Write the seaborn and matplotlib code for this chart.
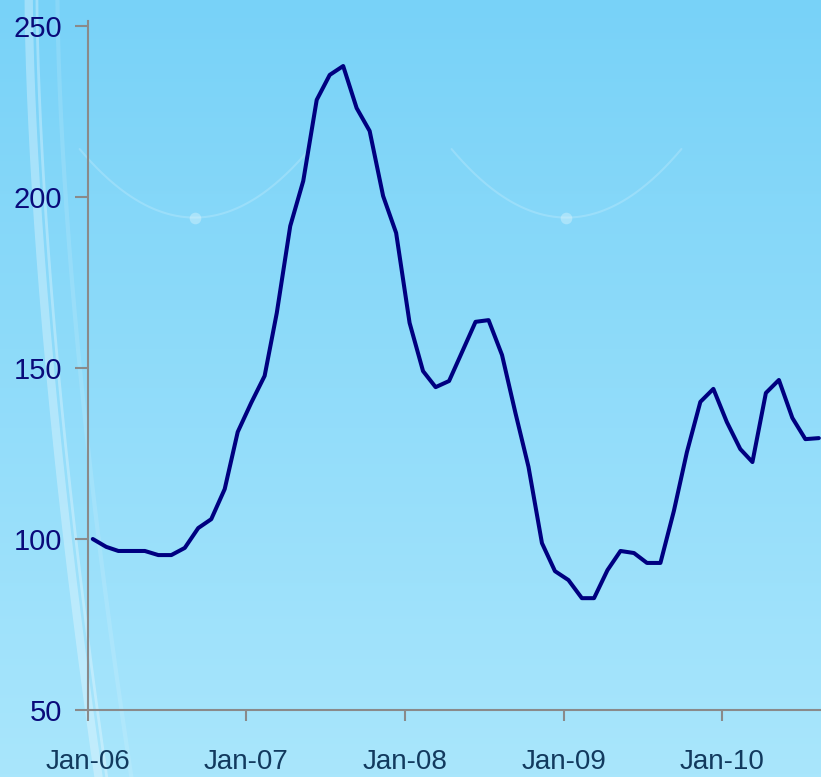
import numpy as np
import pandas as pd
import seaborn as sns
import matplotlib.pyplot as plt
import matplotlib.dates as mdates

# monthly index values, Jan-06 .. Aug-10
start_month = "2006-01-01"
index_values = [
    100.0, 97.7, 96.5, 96.5, 96.5, 95.3, 95.3, 97.4, 103.2, 105.8, 114.6, 131.3,
    139.8, 147.7, 166.1, 191.5, 204.7, 228.4, 235.7, 238.3, 226.0, 219.3, 200.3, 189.5,
    163.2, 149.1, 144.4, 146.2, 154.7, 163.5, 164.0, 153.8, 136.8, 121.1, 98.8, 90.6,
    88.0, 82.7, 82.7, 90.9, 96.5, 95.9, 93.0, 93.0, 108.2, 125.4, 140.1, 143.9,
    134.2, 126.3, 122.5, 142.7, 146.5, 135.4, 129.2, 129.5,
]
y_ticks = [50, 100, 150, 200, 250]

dates = pd.date_range(start_month, periods=len(index_values), freq="MS") + pd.Timedelta(days=11)
df = pd.DataFrame({"date": dates, "value": index_values})

sns.set_style("white")
plt.rcParams["font.family"] = ["Liberation Sans", "DejaVu Sans"]

fig = plt.figure(figsize=(8.21, 7.77), dpi=100)

# background: light blue gradient with a few faint swirls
bg = fig.add_axes([0, 0, 1, 1], zorder=0)
grad = np.linspace(0, 1, 256).reshape(-1, 1)
top = np.array([0x78, 0xd2, 0xf8]) / 255
bot = np.array([0xa9, 0xe6, 0xfc]) / 255
img = top + (bot - top) * grad[..., None]
img = np.repeat(img, 2, axis=1)
bg.imshow(img, aspect="auto", extent=[0, 1, 0, 1], origin="upper")
t = np.linspace(0, 1, 200)
# big arc at the left
bg.plot(0.035 + 0.085 * t**1.6, 1 - t, color="white", alpha=0.3, lw=6)
bg.plot(0.045 + 0.085 * t**1.6, 1 - t, color="white", alpha=0.3, lw=2)
bg.plot(0.07 + 0.09 * t**1.6, 1 - t, color="white", alpha=0.12, lw=3)
# two hanging curves near the top
for cx in (0.237, 0.69):
    xs = np.linspace(cx - 0.14, cx + 0.14, 200)
    ys = 0.72 + 4.5 * (xs - cx) ** 2
    bg.plot(xs, ys, color="white", alpha=0.18, lw=1.5)
    bg.scatter([cx], [0.72], s=70, color="white", alpha=0.3, lw=0)
bg.set_xlim(0, 1)
bg.set_ylim(0, 1)
bg.axis("off")

ax = fig.add_axes([88 / 821, 67 / 777, (821 - 88) / 821, (710 - 26) / 777], zorder=1)
ax.patch.set_alpha(0)
sns.lineplot(data=df, x="date", y="value", ax=ax, color="#000080", lw=2.9)

ax.set_ylim(50, 250)
ax.set_xlim(pd.Timestamp("2006-01-01"), pd.Timestamp("2010-08-17"))
ax.set_yticks(y_ticks)
ax.xaxis.set_major_locator(mdates.YearLocator())
ax.xaxis.set_major_formatter(mdates.DateFormatter("%b-%y"))
ax.set_xlabel("")
ax.set_ylabel("")

for side in ("top", "right"):
    ax.spines[side].set_visible(False)
for side in ("left", "bottom"):
    ax.spines[side].set_color("#8a8a8a")
    ax.spines[side].set_linewidth(1.5)
ax.spines["left"].set_bounds(50, 251.5)

ax.tick_params(axis="y", direction="out", length=9.5, width=1.5, color="#8a8a8a",
               labelsize=21, labelcolor="#0a0a7a", pad=9, left=True)
ax.tick_params(axis="x", direction="out", length=8, width=1.5, color="#8a8a8a",
               labelsize=20, labelcolor="#123a5e", pad=20, bottom=True)
ax.grid(False)

fig.savefig("out.png", dpi=100)
